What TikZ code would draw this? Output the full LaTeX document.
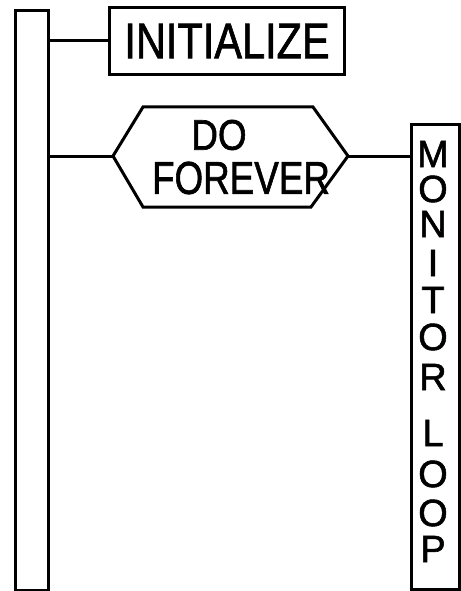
\documentclass[tikz,border=0pt]{standalone}
\usepackage{fontspec}
\setmainfont{Liberation Sans}
\newfontfamily\handfont{Liberation Sans}[BoldFont={Liberation Sans},BoldFeatures={FakeBold=1.5}]
\begin{document}
\begin{tikzpicture}[x=1pt,y=-1pt,line width=3pt,line join=miter,
  box/.style={draw,rectangle,inner sep=0pt,anchor=north west},
  bigtxt/.style={inner sep=0pt,font=\handfont\bfseries\fontsize{50}{50}\selectfont},
  hextxt/.style={inner sep=0pt,font=\handfont\bfseries\fontsize{46}{46}\selectfont},
  lettr/.style={inner sep=0pt,font=\handfont\bfseries\fontsize{38}{38}\selectfont}]
\useasboundingbox (0,0) rectangle (460,591);
% sequence bar
\node[box,minimum width=33pt,minimum height=580pt] (seq) at (14,9) {};
% initialize box
\node[box,bigtxt,minimum width=235pt,minimum height=67pt] (init) at (108,6) {\scalebox{0.83}[1]{INITIALIZE}};
% hexagon
\coordinate (hexL) at (113,156);
\coordinate (hexTL) at (143,107);
\coordinate (hexTR) at (313,107);
\coordinate (hexR) at (348,156);
\coordinate (hexBR) at (311,207);
\coordinate (hexBL) at (143,207);
\draw (hexL) -- (hexTL) -- (hexTR) -- (hexR) -- (hexBR) -- (hexBL) -- cycle;
\node[hextxt] (do) at (219,135) {\scalebox{0.8}[0.93]{DO}};
\node[hextxt] (forever) at (241,178) {\scalebox{0.8}[1]{FOREVER}};
% monitor loop box
\node[box,minimum width=48pt,minimum height=465pt] (mon) at (410,123) {};
\node[lettr] (m1) at (433,154) {M};
\node[lettr] (m2) at (433,189) {O};
\node[lettr] (m3) at (433,224) {N};
\node[lettr] (m4) at (433,263) {I};
\node[lettr] (m5) at (433,300) {T};
\node[lettr] (m6) at (433,337) {O};
\node[lettr] (m7) at (433,377) {R};
\node[lettr] (m8) at (433,433) {L};
\node[lettr] (m9) at (433,474) {O};
\node[lettr] (m10) at (433,513) {O};
\node[lettr] (m11) at (433,549) {P};
% connectors
\draw (init.west -| seq.east) -- (init.west);
\draw (hexL -| seq.east) -- (hexL);
\draw (hexR) -- (hexR -| mon.west);
\end{tikzpicture}
\end{document}
